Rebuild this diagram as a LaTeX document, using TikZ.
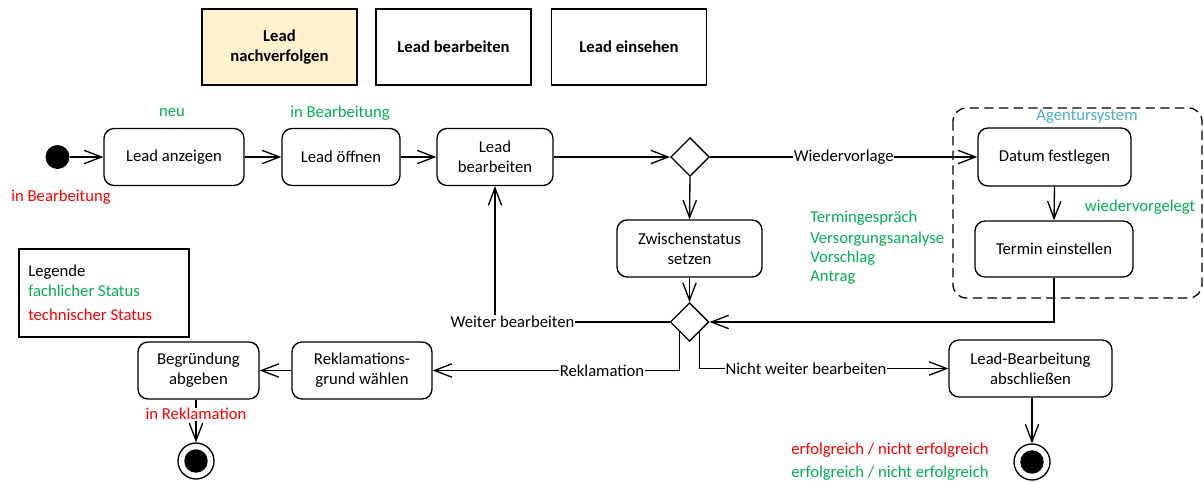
\documentclass[tikz,border=0pt]{standalone}
\usepackage{fontspec}
\setmainfont{Carlito}
\usetikzlibrary{arrows.meta,shapes.geometric}
\definecolor{stgreen}{HTML}{00B050}
\definecolor{stred}{HTML}{FF0000}
\definecolor{agcyan}{HTML}{4BACC6}
\definecolor{paleyellow}{HTML}{FFF2CC}
\begin{document}
\begin{tikzpicture}[x=0.75pt,y=-0.75pt,
  every node/.style={font=\fontsize{12.5}{15}\selectfont},
  act/.style={draw, line width=1pt, rounded corners=7.5pt, align=center, minimum height=42.75pt, inner sep=1pt},
  topbox/.style={draw, line width=1pt, align=center, minimum width=116.25pt, minimum height=57pt, font=\fontsize{12.5}{15}\selectfont\bfseries},
  choice/.style={draw, line width=1pt, diamond, minimum width=29pt, minimum height=29pt, inner sep=0pt},
  startdot/.style={circle, fill=black, minimum size=18pt, inner sep=0pt},
  enddot/.style={circle, draw, line width=1pt, minimum size=27pt, inner sep=0pt,
    path picture={\fill[black] (path picture bounding box.center) circle (8.8pt);}},
  flow/.style={line width=1pt, -{Straight Barb[length=13pt,width=10pt]}},
  guard/.style={fill=white, inner sep=0.5pt},
  green/.style={text=stgreen},
  red/.style={text=stred}
]
\useasboundingbox (0,0) rectangle (1204,482);

% role boxes
\node[topbox, fill=paleyellow] (follow) at (279.5,47) {Lead\\nachverfolgen};
\node[topbox] (edit) at (453.5,47) {Lead bearbeiten};
\node[topbox] (view) at (629,47) {Lead einsehen};

% legend
\node[draw, line width=1pt, minimum width=127.5pt, minimum height=66pt] (legend) at (104,293) {};
\node[anchor=west, inner sep=0pt] (lgtitle) at (28,272) {Legende};
\node[anchor=west, inner sep=0pt, green] (lgbiz) at (28,291) {fachlicher Status};
\node[anchor=west, inner sep=0pt, red] (lgtech) at (28,315) {technischer Status};

% agency system frame
\draw[line width=1pt, dashed, dash pattern=on 7pt off 4pt, rounded corners=10pt] (953,108) rectangle (1202,298);
\node[text=agcyan] (agency) at (1087,117) {Agentursystem};

% activities
\node[startdot] (start) at (57.5,157) {};
\node[act, minimum width=105pt] (show) at (174,157) {Lead anzeigen};
\node[act, minimum width=88.5pt] (open) at (341,157) {Lead öffnen};
\node[act, minimum width=87pt] (work) at (495,157) {Lead\\bearbeiten};
\node[choice] (d1) at (690,157) {};
\node[act, minimum width=114.75pt, minimum height=43.5pt] (date) at (1054.5,157) {Datum festlegen};
\node[act, minimum width=118.5pt, minimum height=42pt] (appt) at (1054,249) {Termin einstellen};
\node[act, minimum width=108.75pt] (interim) at (689.5,248.5) {Zwischenstatus\\setzen};
\node[choice] (d2) at (689.5,322) {};
\node[act, minimum width=105pt] (reason) at (362,370.5) {Reklamations-\\grund wählen};
\node[act, minimum width=90.75pt] (justify) at (198.5,370.5) {Begründung\\abgeben};
\node[act, minimum width=122.25pt] (close) at (1030.5,368.5) {Lead-Bearbeitung\\abschließen};
\node[enddot] (end1) at (196,461) {};
\node[enddot] (end2) at (1032,462) {};

% status labels
\node[green] (sneu) at (172,113) {neu};
\node[green] (sinb) at (340,113) {in Bearbeitung};
\node[red] (sinbt) at (61,197) {in Bearbeitung};
\node[green] (swv) at (1140,207) {wiedervorgelegt};
\node[green, anchor=west, inner sep=0pt] (s1) at (810,218) {Termingespräch};
\node[green, anchor=west, inner sep=0pt] (s2) at (810,239) {Versorgungsanalyse};
\node[green, anchor=west, inner sep=0pt] (s3) at (810,258) {Vorschlag};
\node[green, anchor=west, inner sep=0pt] (s4) at (810,278) {Antrag};
\node[red] (sok1) at (890,450) {erfolgreich / nicht erfolgreich};
\node[green] (sok2) at (890,473) {erfolgreich / nicht erfolgreich};

% transitions
\draw[flow] (start) -- (show);
\draw[flow] (show) -- (open);
\draw[flow] (open) -- (work);
\draw[flow] (work) -- (d1.west);
\draw[flow] (d1.east) -- node[guard] {Wiedervorlage} (date.west);
\draw[flow] (d1.south) -- (interim.north);
\draw[flow] (interim.south) -- (d2.north);
\draw[flow] (date.south) -- (appt.north);
\draw[flow] (appt.south) |- (d2.east);
\draw[flow] (d2.west) -| node[guard, pos=0.45] {Weiter bearbeiten} (work.south);
\draw[flow] (d2.south west) |- node[guard, pos=0.657] {Reklamation} (reason.east);
\draw[flow] (d2.south east) |- node[guard, pos=0.714] {Nicht weiter bearbeiten} (close.west);
\draw[flow] (reason.west) -- (justify.east);
\draw[flow] (justify.south -| end1) -- node[guard, red, pos=0.34] {in Reklamation} (end1.north);
\draw[flow] (close.south -| end2) -- (end2.north);
\end{tikzpicture}
\end{document}
